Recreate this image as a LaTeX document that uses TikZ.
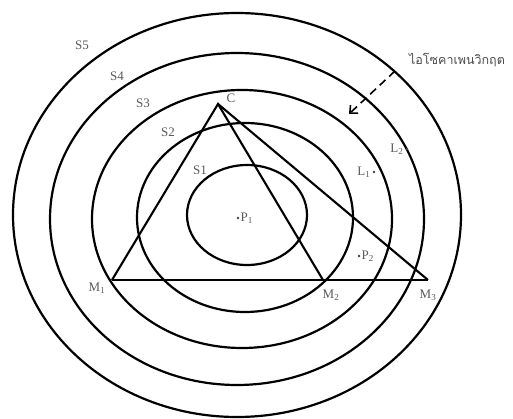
\documentclass[tikz,border=0pt]{standalone}
\usepackage{fontspec}
\setmainfont{Liberation Serif}
\newfontfamily\thaifont[Script=Thai]{Loma}
\usetikzlibrary{arrows.meta}
\tikzset{
  ring/.style={line width=2.2pt},
  side/.style={line width=2.1pt},
  lab/.style={font=\fontsize{13}{15}\selectfont, text=black!65, inner sep=0pt},
  spot/.style={circle, fill=black!75, inner sep=0pt, minimum size=2.6pt}
}
\begin{document}
\begin{tikzpicture}[x=1pt, y=-1pt]
  \useasboundingbox (0,0) rectangle (513,419);
  % the five rings S1 ... S5, slightly off-centre from one another
  \foreach \cx/\cy/\rx/\ry in {247/215/60/50, 245/217.5/108/94.5, 242/219/150/129,
                               237/219/187/166, 237/215/224/202}
    \draw[ring] (\cx,\cy) ellipse[x radius=\rx, y radius=\ry];
  \foreach \i/\p in {5/{(82,45)}, 4/{(117,76)}, 3/{(143,103)}, 2/{(168,132)}, 1/{(200,170)}}
    \node[lab] (s\i) at \p {S\i};

  % the triangles share the apex C and the base line M1--M3
  \coordinate (C) at (218,104);
  \coordinate (M1) at (112,280);
  \coordinate (M2) at (323,280);
  \coordinate (M3) at (428,280);
  \draw[side] (M1) -- (C) -- (M2);
  \draw[side] (C) -- (M3);
  \draw[side] (M1) -- (M3);
  \node[lab] (cl) at (231,98) {C};
  \node[lab] (m1l) at (97,288) {M\textsubscript{1}};
  \node[lab] (m2l) at (331,295) {M\textsubscript{2}};
  \node[lab] (m3l) at (428,295) {M\textsubscript{3}};

  % points inside the rings
  \node[spot] (p1) at (238,218) {};
  \node[lab, right=1pt] (p1l) at (p1.east) {P\textsubscript{1}};
  \node[spot] (p2) at (359,256) {};
  \node[lab, right=1pt] (p2l) at (p2.east) {P\textsubscript{2}};
  \node[spot] (l1) at (374,172) {};
  \node[lab, left=2pt] (l1l) at (l1.west) {L\textsubscript{1}};
  \node[spot] (l2) at (407,149) {};
  \node[lab, left=2pt] (l2l) at (l2.west) {L\textsubscript{2}};

  % critical isodapane: dashed pointer onto ring S3
  \node[font=\thaifont\fontsize{12.5}{14}\selectfont, text=black!70, inner sep=0pt]
    (crit) at (457,60) {ไอโซคาเพนวิกฤต};
  \coordinate (critfoot) at (395,71);
  \coordinate (crittip) at (349,114);
  \draw[line width=1.6pt, dash pattern=on 8pt off 5pt,
        -{Straight Barb[length=6pt, width=11pt]}] (critfoot) -- (crittip);
\end{tikzpicture}
\end{document}
